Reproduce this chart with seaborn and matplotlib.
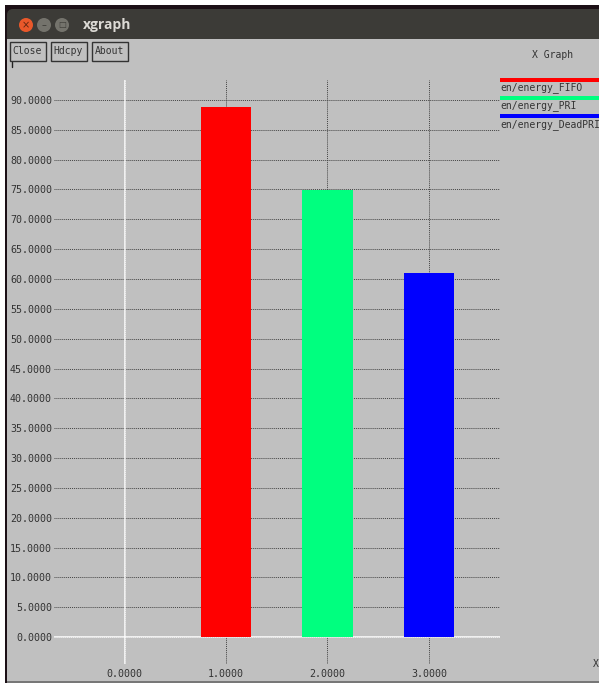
import matplotlib
matplotlib.use('Agg')
import matplotlib.pyplot as plt
from matplotlib.patches import Circle, FancyBboxPatch, Rectangle
import seaborn as sns

positions = [1, 2, 3]
energy = [88.8, 74.9, 61.0]
bar_colors = ['#ff0000', '#00ff7f', '#0000ff']
legend_labels = ['en/energy_FIFO', 'en/energy_PRI', 'en/energy_DeadPRI']
button_labels = ['Close', 'Hdcpy', 'About']
x_ticks = [0, 1, 2, 3]
y_ticks = list(range(0, 95, 5))

W, H = 599, 683
GREY = '#c0c0c0'
INK = '#333333'
MONO = 'DejaVu Sans Mono'

sns.set_style('white')
fig = plt.figure(figsize=(W / 100, H / 100), dpi=100, facecolor='white')

# window chrome, in pixel coordinates
bg = fig.add_axes([0, 0, 1, 1], zorder=0)
bg.set_xlim(0, W)
bg.set_ylim(H, 0)
bg.axis('off')
bg.add_patch(Rectangle((5, 5), W, H, color='#1c1016', lw=0))
bg.add_patch(FancyBboxPatch((7, 9), W, 40, boxstyle='round,pad=0,rounding_size=6',
                            fc='#3c3b37', ec='none', lw=0))
bg.add_patch(Rectangle((7, 39), W, 642, color=GREY, lw=0))
bg.add_patch(Rectangle((7, 681), W, 2, color='#777777', lw=0))
bg.add_patch(Circle((26, 25), 7, color='#e9582a', lw=0))
bg.add_patch(Circle((44, 25), 7, color='#74736c', lw=0))
bg.add_patch(Circle((62, 25), 7, color='#74736c', lw=0))
bg.text(26, 25, '×', color='#5c2410', fontsize=7, ha='center', va='center')
bg.text(44, 25, '–', color='#3c3b37', fontsize=7, ha='center', va='center')
bg.text(62, 25, '□', color='#3c3b37', fontsize=6, ha='center', va='center')
bg.text(83, 25, 'xgraph', color='#dcdad5', fontsize=10, fontweight='bold',
        family='Open Sans', ha='left', va='center')

for i, label in enumerate(button_labels):
    left = 9 + i * 41
    bg.add_patch(Rectangle((left + 0.5, 41.5), 36.5, 19, fc=GREY, ec='#333333', lw=1.0))
    bg.text(left + 18.5, 51, label, color=INK, fontsize=7, family=MONO,
            ha='center', va='center')
bg.plot([12, 12], [62, 67], color='#222222', lw=1)
bg.text(553, 55, 'X Graph', color=INK, fontsize=7, family=MONO, ha='center', va='center')
bg.text(599, 664, 'X', color=INK, fontsize=7, family=MONO, ha='right', va='center')

# plot area runs over pixels x 54-500, y 80-664
ax = fig.add_axes([54 / W, 1 - 664 / H, 446 / W, 584 / H], zorder=1)
ax.patch.set_alpha(0)
sns.barplot(x=positions, y=energy, hue=positions, palette=bar_colors, native_scale=True,
            dodge=False, width=0.5, saturation=1, legend=False, linewidth=0, ax=ax, zorder=3)
ax.set_xlim(-0.695, 3.70)
ax.set_ylim(-4.52, 93.35)
ax.set_xticks(x_ticks)
ax.set_xticklabels(['%.4f' % v for v in x_ticks])
ax.set_yticks(y_ticks)
ax.set_yticklabels(['%.4f' % v for v in y_ticks])
ax.tick_params(length=0, labelsize=7.2, labelcolor=INK, pad=1.5)
ax.tick_params(axis='x', pad=3.6)
for tick in ax.get_xticklabels() + ax.get_yticklabels():
    tick.set_family(MONO)
ax.grid(True, color='#444444', ls=(0, (1, 1)), lw=0.7)
ax.set_axisbelow(True)
ax.axhline(0, color='white', lw=1.1, zorder=2)
ax.axvline(0, color='white', lw=1.1, zorder=2)
sns.despine(ax=ax, left=True, bottom=True)

# legend sits to the right of the plot and runs off the window edge
for i, (label, color) in enumerate(zip(legend_labels, bar_colors)):
    y = 79.5 + i * 18.4
    bg.add_patch(Rectangle((500, y - 2), 99, 4, color=color, lw=0))
    bg.text(500, y + 8, label, color=INK, fontsize=7, family=MONO, ha='left', va='center',
            clip_on=True)

fig.savefig('out.png', dpi=100)
